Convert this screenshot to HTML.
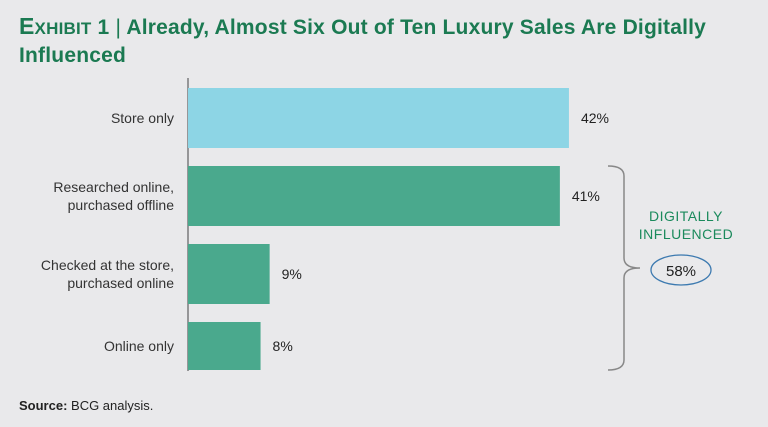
<!DOCTYPE html>
<html><head><meta charset="utf-8"><style>
body{margin:0;background:#e9e9eb;font-family:"Liberation Sans",sans-serif;}
#wrap{position:relative;width:768px;height:427px;overflow:hidden;background:#e9e9eb;}
.title{position:absolute;left:19px;top:13px;font-size:21px;font-weight:bold;color:#1b7a52;line-height:27px;letter-spacing:0.2px;}
.src{position:absolute;left:19px;top:398px;font-size:13px;color:#222;}
</style></head><body>
<div id="wrap">
<div class="title"><span style="font-size:23px">E</span><span style="font-size:17px">XHIBIT</span> 1 <span style="font-weight:normal">|</span> Already, Almost Six Out of Ten Luxury Sales Are Digitally<br>Influenced</div>
<svg id="svg" width="768" height="427" style="position:absolute;left:0;top:0"></svg>
<div class="src"><b>Source:</b> BCG analysis.</div>
</div>
<script>
const categories=[["Store only"],["Researched online,","purchased offline"],["Checked at the store,","purchased online"],["Online only"]];
const values=[42,41,9,8];
const colors=["#8dd5e5","#4aa98d","#4aa98d","#4aa98d"];
const totalLabel="58%";
const NS="http://www.w3.org/2000/svg";
const svg=document.getElementById('svg');
const x0=188,pxPer=9.07;
const bandTop=[88,166,244,322],barH=60;
function xs(v){return x0+v*pxPer;}
function mk(t,a){const e=document.createElementNS(NS,t);for(const k in a)e.setAttribute(k,a[k]);svg.appendChild(e);return e;}
const ax=mk('line',{x1:x0,y1:78,x2:x0,y2:371,stroke:'#444','stroke-width':1});


values.forEach((v,i)=>{
  const y=bandTop[i];const h=(i==3)?48:barH;
  const r=mk('rect',{x:x0,y:y,width:xs(v)-x0,height:h,fill:colors[i]});
  
  
  const t=mk('text',{x:xs(v)+12,y:y+h/2+5,'font-size':14,fill:'#222'});
  t.textContent=v+'%';
  
  
  const lines=categories[i];
  const lab=mk('text',{x:174,'text-anchor':'end','font-size':14,fill:'#333'});
  
  
  lines.forEach((l,j)=>{const ts=document.createElementNS(NS,'tspan');ts.setAttribute('x',174);ts.setAttribute('y',y+h/2+5+(j-(lines.length-1)/2)*18);ts.textContent=l;lab.appendChild(ts);});
});
const br=mk('path',{d:'M608,166 Q624,166 624,176 L624,258 Q624,268 640,268 Q624,268 624,278 L624,360 Q624,370 608,370',fill:'none',stroke:'#888','stroke-width':1.5});


const dl=mk('text',{x:686,y:221,'text-anchor':'middle','font-size':14,fill:'#1b8a5c','letter-spacing':'0.5'});


[["DIGITALLY",221],["INFLUENCED",239]].forEach(a=>{const ts=document.createElementNS(NS,'tspan');ts.setAttribute('x',686);ts.setAttribute('y',a[1]);ts.textContent=a[0];dl.appendChild(ts);});
const el=mk('ellipse',{cx:681,cy:270,rx:30,ry:15,fill:'none',stroke:'#3d7ab0','stroke-width':1.3});


const tt=mk('text',{x:681,y:276,'text-anchor':'middle','font-size':15,fill:'#222'});
tt.textContent=totalLabel;


</script>
</body></html>
